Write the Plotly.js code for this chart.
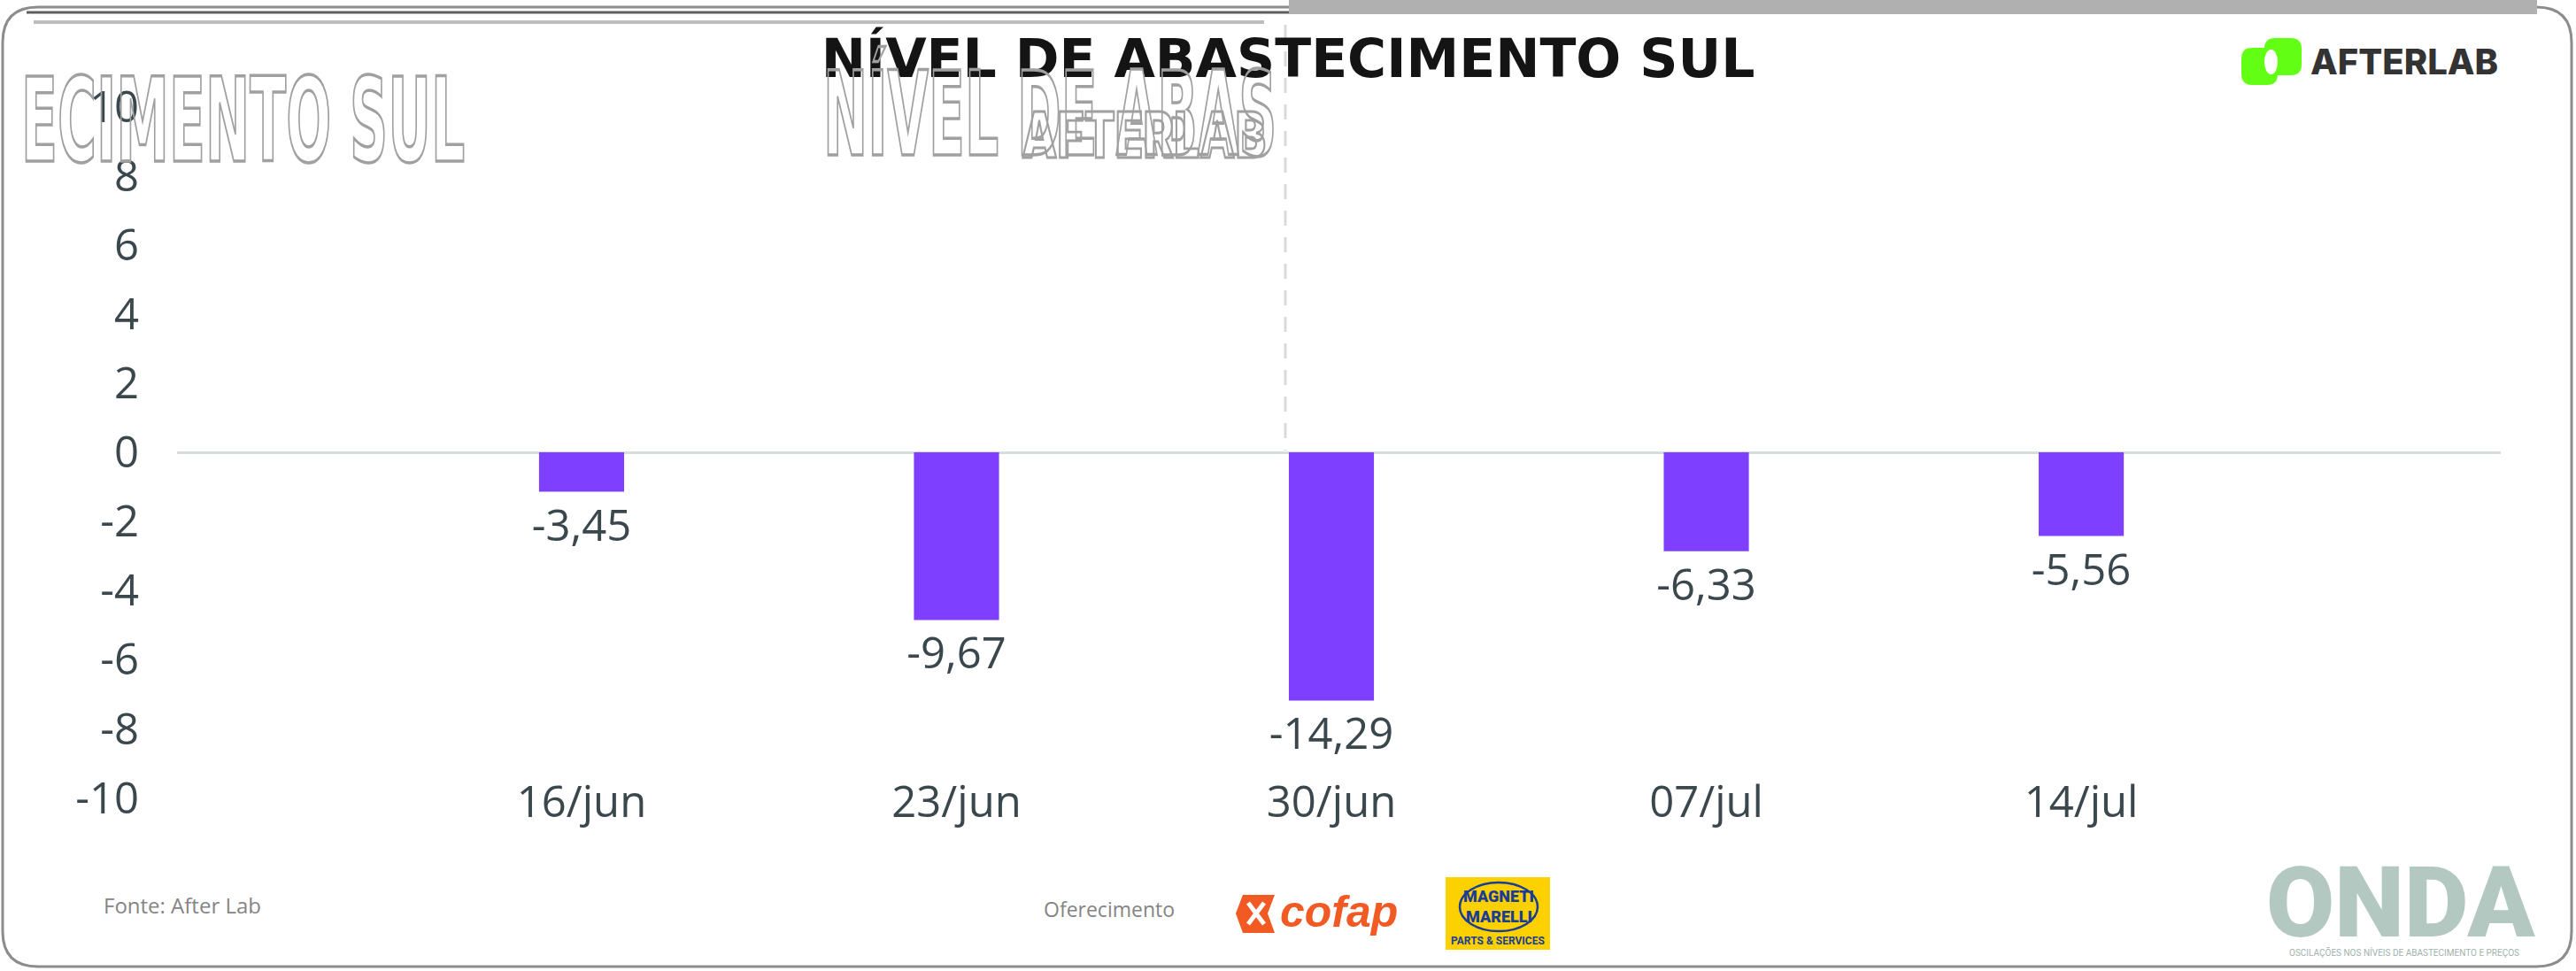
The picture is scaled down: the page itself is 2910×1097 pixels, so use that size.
<!DOCTYPE html>
<html>
<head>
<meta charset="utf-8">
<script src="https://cdn.plot.ly/plotly-3.0.1.min.js"></script>
<style>
  html, body { margin: 0; padding: 0; background: #ffffff; }
  #chart { width: 2910px; height: 1097px; }
</style>
</head>
<body>
<div id="chart"></div>
<script>
// ---------------- DATA ----------------
const categories = ['16/jun', '23/jun', '30/jun', '07/jul', '14/jul'];
// Variation shown in each bar's label (%)
const variacao = [-3.45, -9.67, -14.29, -6.33, -5.56];
// Bar ends as read against the drawn y axis
const nivelEixo = [-1.14, -4.85, -7.18, -2.86, -2.42];
const yTickVals = [10, 8, 6, 4, 2, 0, -2, -4, -6, -8, -10];
const yTickText = ['10', '8', '6', '4', '2', '0', '-2', '-4', '-6', '-8', '-10'];
const titleText = 'NÍVEL DE ABASTECIMENTO SUL';
const sourceText = 'Fonte: After Lab';
const sponsorText = 'Oferecimento';

// ---------------- GEOMETRY HELPERS ----------------
const W = 2910, H = 1097;
const ML = 200, MR = 85, MT = 97, MB = 172;
const PW = W - ML - MR, PH = H - MT - MB;
const fx = px => (px - ML) / PW;
const fy = py => (H - MB - py) / PH;
const P = (x, y) => fx(x) + ',' + fy(y);
function rrect(x0, y0, x1, y1, r) {
  return 'M' + P(x0 + r, y0) + ' L' + P(x1 - r, y0) + ' Q' + P(x1, y0) + ' ' + P(x1, y0 + r) +
    ' L' + P(x1, y1 - r) + ' Q' + P(x1, y1) + ' ' + P(x1 - r, y1) +
    ' L' + P(x0 + r, y1) + ' Q' + P(x0, y1) + ' ' + P(x0, y1 - r) +
    ' L' + P(x0, y0 + r) + ' Q' + P(x0, y0) + ' ' + P(x0 + r, y0) + ' Z';
}
function poly(pts) {
  return 'M' + pts.map(p => P(p[0], p[1])).join(' L') + ' Z';
}

const textColor = '#3a474c';
const axisFont = { family: 'Open Sans, Noto Sans, sans-serif', size: 49, color: textColor };
const fmt = v => v.toFixed(2).replace('.', ',');

const trace = {
  type: 'bar',
  x: categories,
  y: nivelEixo,
  text: variacao.map(fmt),
  textposition: 'outside',
  constraintext: 'none',
  textfont: axisFont,
  cliponaxis: false,
  width: 0.227,
  marker: { color: '#7f3fff', line: { width: 0 } },
  hoverinfo: 'skip'
};

const shapes = [
  // card border
  { type: 'path', xref: 'paper', yref: 'paper', path: rrect(3, 8, 2905, 1092, 40),
    line: { color: '#8c8c8c', width: 3 }, fillcolor: 'rgba(0,0,0,0)', layer: 'below' },
  // top glitch lines
  { type: 'line', xref: 'paper', yref: 'paper', x0: fx(30), x1: fx(1456), y0: fy(14), y1: fy(14),
    line: { color: '#5e5e5e', width: 3 } },
  { type: 'line', xref: 'paper', yref: 'paper', x0: fx(38), x1: fx(1428), y0: fy(25), y1: fy(25),
    line: { color: '#bdbdbd', width: 4 } },
  { type: 'rect', xref: 'paper', yref: 'paper', x0: fx(1456), x1: fx(2866), y0: fy(0), y1: fy(16),
    fillcolor: '#b0b0b0', line: { width: 0 } },
  // dashed vertical guide
  { type: 'line', xref: 'paper', yref: 'paper', x0: fx(1452), x1: fx(1452), y0: fy(28), y1: fy(509),
    line: { color: '#d9d9d9', width: 3, dash: '17px,13px' } },
  // AfterLab icon
  { type: 'path', xref: 'paper', yref: 'paper', path: rrect(2558, 43, 2600, 85, 12),
    fillcolor: '#62ff14', line: { width: 0 } },
  { type: 'path', xref: 'paper', yref: 'paper', path: rrect(2532, 54, 2573, 96, 12),
    fillcolor: '#62ff14', line: { width: 0 } },
  { type: 'circle', xref: 'paper', yref: 'paper', x0: fx(2558), x1: fx(2573), y0: fy(56), y1: fy(84),
    fillcolor: '#ffffff', line: { width: 0 } },
  // Cofap icon
  { type: 'path', xref: 'paper', yref: 'paper',
    path: poly([[1404, 1011], [1440, 1011], [1432, 1032], [1440, 1054], [1404, 1054], [1396, 1032]]),
    fillcolor: '#f15a22', line: { width: 0 } },
  { type: 'line', xref: 'paper', yref: 'paper', x0: fx(1410), x1: fx(1428), y0: fy(1020), y1: fy(1044),
    line: { color: '#ffffff', width: 5 } },
  { type: 'line', xref: 'paper', yref: 'paper', x0: fx(1428), x1: fx(1410), y0: fy(1020), y1: fy(1044),
    line: { color: '#ffffff', width: 5 } },
  // Magneti Marelli badge
  { type: 'rect', xref: 'paper', yref: 'paper', x0: fx(1633), x1: fx(1751), y0: fy(991), y1: fy(1073),
    fillcolor: '#fdd000', line: { width: 0 } },
  { type: 'circle', xref: 'paper', yref: 'paper', x0: fx(1649), x1: fx(1737), y0: fy(997), y1: fy(1052),
    fillcolor: 'rgba(0,0,0,0)', line: { color: '#1b3e94', width: 2.5 } }
];

const ann = (text, x, y, font, extra) => Object.assign({
  text: text, xref: 'paper', yref: 'paper', x: fx(x), y: fy(y),
  xanchor: 'center', yanchor: 'middle', showarrow: false, font: font
}, extra || {});

const titleFamily = 'DejaVu Sans, Verdana, sans-serif';
const titleFont = { family: titleFamily, size: 60, weight: 700, color: '#141414' };
const ghostTitleFont = { family: titleFamily, size: 60, weight: 700, color: 'rgba(255,255,255,0)' };

const annotations = [
  // ghost glitch copies of the title and logo
  ann('ECIMENTO SUL', 527, 136, ghostTitleFont, { xanchor: 'right' }),
  ann('NÍVEL DE ABAS', 928, 128, ghostTitleFont, { xanchor: 'left' }),
  ann('AFTERLAB', 1292, 152, { family: 'Inter, sans-serif', size: 40, weight: 800, color: 'rgba(255,255,255,0)' }),
  // AfterLab wordmark
  ann('AFTERLAB', 2608, 69, { family: 'Inter, sans-serif', size: 40, weight: 800, color: '#333333' }, { xanchor: 'left' }),
  // footer
  ann(sourceText, 115, 1022, { family: 'Open Sans, sans-serif', size: 24, color: '#858585' }, { xanchor: 'left' }),
  ann(sponsorText, 1253, 1027, { family: 'Open Sans, sans-serif', size: 23, color: '#858585' }),
  ann('cofap', 1512, 1030, { family: 'Liberation Sans, Arial, sans-serif', size: 50, weight: 700, style: 'italic', color: '#f15a22' }),
  ann('MAGNETI', 1693, 1012, { family: 'Roboto, sans-serif', size: 18, weight: 900, color: '#1b3e94' }),
  ann('MARELLI', 1693, 1035, { family: 'Roboto, sans-serif', size: 18, weight: 900, color: '#1b3e94' }),
  ann('PARTS &amp; SERVICES', 1692, 1063, { family: 'Roboto, sans-serif', size: 12, weight: 700, color: '#1b3e94' }),
  ann('ONDA', 2712, 1019, { family: 'Roboto, sans-serif', size: 112, weight: 900, color: '#b4c8c2' }),
  ann('OSCILAÇÕES NOS NÍVEIS DE ABASTECIMENTO E PREÇOS', 2716, 1076, { family: 'Roboto, sans-serif', size: 10, color: '#9fb3ad' })
];

const layout = {
  width: W, height: H,
  margin: { l: ML, r: MR, t: MT, b: MB, pad: 0 },
  paper_bgcolor: '#ffffff', plot_bgcolor: '#ffffff',
  showlegend: false,
  hovermode: false,
  title: {
    text: titleText, font: titleFont,
    xref: 'container', x: 0.5, xanchor: 'center',
    yref: 'container', y: 1 - 66 / H, yanchor: 'middle'
  },
  xaxis: {
    type: 'category',
    range: [-1.079, 5.119],
    anchor: 'free', position: 0.063,
    showgrid: false, zeroline: false, showline: false, ticks: '',
    tickfont: axisFont
  },
  yaxis: {
    range: [-10.6, 10.6],
    tickvals: yTickVals, ticktext: yTickText,
    showgrid: false, showline: false, ticks: '',
    zeroline: true, zerolinecolor: '#d5dedb', zerolinewidth: 3,
    tickfont: axisFont,
    ticklabelstandoff: 42
  },
  shapes: shapes,
  annotations: annotations
};

// ghost annotations (index -> stretch factors)
const ghostSpec = { 0: [1, 2.2], 1: [1, 2.2], 2: [1.3, 1.8] };

Plotly.newPlot('chart', [trace], layout, { staticPlot: true, displayModeBar: false }).then(gd => {
  const groups = gd.querySelectorAll('.annotation');
  groups.forEach(g => {
    const idx = +g.getAttribute('data-index');
    const s = ghostSpec[idx];
    const t = g.querySelector('.annotation-text');
    if (s && t) {
      t.style.stroke = '#a0a0a0';
      t.style.strokeWidth = '1.6px';
      t.style.transformBox = 'fill-box';
      t.style.transformOrigin = 'center';
      t.style.transform = 'scale(' + s[0] + ',' + s[1] + ')';
    }
  });
});
</script>
</body>
</html>
